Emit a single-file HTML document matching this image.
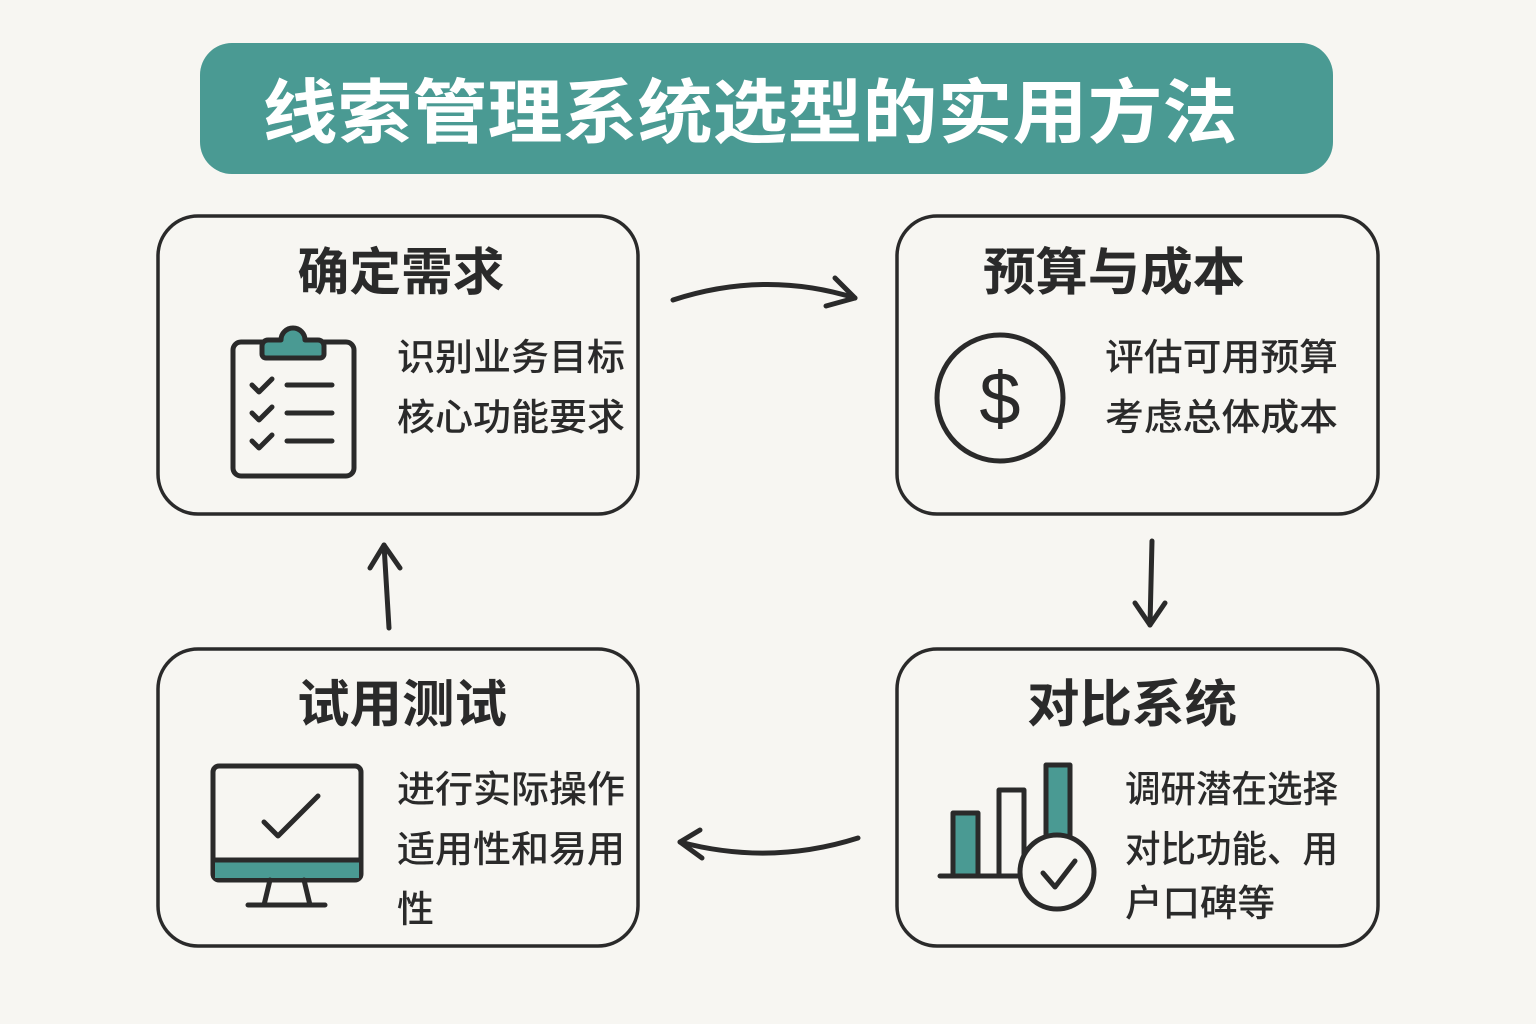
<!DOCTYPE html>
<html><head><meta charset="utf-8"><style>
html,body{margin:0;padding:0;background:#f7f6f2;}
svg{display:block}
text{font-family:"Liberation Sans","Noto Sans CJK SC",sans-serif;}
</style></head><body>
<svg width="1536" height="1024" viewBox="0 0 1536 1024" xmlns="http://www.w3.org/2000/svg">
<rect width="1536" height="1024" fill="#f7f6f2"/>
<rect x="200" y="43" width="1133" height="131" rx="32" fill="#4a9a93"/>
<text x="750" y="137" font-size="70" font-weight="bold" fill="#fff" text-anchor="middle" textLength="975" lengthAdjust="spacingAndGlyphs">线索管理系统选型的实用方法</text>
<g fill="none" stroke="#2a2a2a" stroke-width="3.5">
<rect x="158" y="216" width="480" height="298" rx="40"/>
<rect x="897" y="216" width="481" height="298" rx="40"/>
<rect x="158" y="649" width="480" height="297" rx="40"/>
<rect x="897" y="649" width="481" height="297" rx="40"/>
</g>
<g font-size="51" font-weight="bold" fill="#2a2a2a" text-anchor="middle">
<text x="401" y="290" textLength="207" lengthAdjust="spacingAndGlyphs">确定需求</text>
<text x="1114" y="290" textLength="262" lengthAdjust="spacingAndGlyphs">预算与成本</text>
<text x="402" y="722" textLength="210" lengthAdjust="spacingAndGlyphs">试用测试</text>
<text x="1132" y="722" textLength="210" lengthAdjust="spacingAndGlyphs">对比系统</text>
</g>
<g font-size="37" font-weight="500" fill="#2a2a2a">
<text x="397" y="370" textLength="228" lengthAdjust="spacingAndGlyphs">识别业务目标</text>
<text x="397" y="430" textLength="228" lengthAdjust="spacingAndGlyphs">核心功能要求</text>
<text x="1105" y="370" textLength="233" lengthAdjust="spacingAndGlyphs">评估可用预算</text>
<text x="1105" y="430" textLength="233" lengthAdjust="spacingAndGlyphs">考虑总体成本</text>
<text x="397" y="802" textLength="228" lengthAdjust="spacingAndGlyphs">进行实际操作</text>
<text x="397" y="862" textLength="228" lengthAdjust="spacingAndGlyphs">适用性和易用</text>
<text x="397" y="922">性</text>
<text x="1125" y="802" textLength="213" lengthAdjust="spacingAndGlyphs">调研潜在选择</text>
<text x="1125" y="862" textLength="213" lengthAdjust="spacingAndGlyphs">对比功能、用</text>
<text x="1125" y="916" textLength="150" lengthAdjust="spacingAndGlyphs">户口碑等</text>
</g>
<g fill="none" stroke="#2a2a2a" stroke-width="5" stroke-linecap="round" stroke-linejoin="round">
<path d="M673 300 Q765 270 855 298"/><path d="M835 278 L855 298 L826 306"/>
<path d="M1152 541 L1150 625"/><path d="M1135 603 L1150 625 L1165 603"/>
<path d="M858 838 Q770 866 680 842"/><path d="M700 830 L680 842 L702 858"/>
<path d="M389 628 L384 545"/><path d="M370 568 L384 545 L400 568"/>
</g>
<g stroke="#2a2a2a" stroke-width="5" stroke-linecap="round" stroke-linejoin="round">
<rect x="233" y="342" width="121" height="134" rx="8" fill="#f7f6f2"/>
<path d="M268 340 h13 a12 12 0 0 1 24 0 h13 a6 6 0 0 1 6 6 v8 a4 4 0 0 1 -4 4 h-54 a4 4 0 0 1 -4 -4 v-8 a6 6 0 0 1 6 -6z" fill="#4a9a93"/>
<g fill="none">
<path d="M252 385 l7 7 l13 -13"/><path d="M287 385 h45"/>
<path d="M252 413 l7 7 l13 -13"/><path d="M287 413 h45"/>
<path d="M252 441 l7 7 l13 -13"/><path d="M287 441 h45"/>
</g>
</g>
<circle cx="1000" cy="398" r="63" fill="none" stroke="#2a2a2a" stroke-width="5"/>
<text x="1000" y="424" font-size="74" fill="#2a2a2a" text-anchor="middle">$</text>
<g stroke="#2a2a2a" stroke-width="5" stroke-linecap="round" stroke-linejoin="round">
<rect x="213" y="766" width="148" height="114" rx="6" fill="#f7f6f2"/>
<rect x="215" y="860" width="144" height="18" fill="#4a9a93" stroke="none"/>
<path d="M215 860 H359" fill="none"/>
<path d="M264 822 l14 14 l40 -40" fill="none"/>
<path d="M270 880 L264 905 M304 880 L310 905 M248 905 H325" fill="none"/>
</g>
<g stroke="#2a2a2a" stroke-width="5" stroke-linecap="round" stroke-linejoin="round">
<rect x="953" y="813" width="25" height="63" fill="#4a9a93"/>
<rect x="999" y="790" width="25" height="86" fill="#f7f6f2"/>
<rect x="1046" y="765" width="24" height="80" fill="#4a9a93"/>
<path d="M940 876 H1025" fill="none"/>
<circle cx="1057" cy="872" r="37" fill="#f7f6f2"/>
<path d="M1043 873 l12 14 l20 -26" fill="none"/>
</g>
</svg>
</body></html>
